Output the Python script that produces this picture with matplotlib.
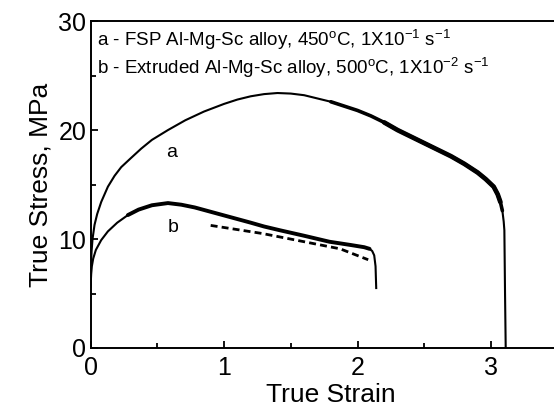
import matplotlib.pyplot as plt

plt.rcParams['font.family'] = ['Liberation Sans', 'DejaVu Sans']
plt.rcParams['mathtext.fontset'] = 'custom'
plt.rcParams['mathtext.rm'] = 'Liberation Sans'
plt.rcParams['mathtext.it'] = 'Liberation Sans'

# curve a: FSP alloy, 450C
a_strain = [0, 0.003, 0.008, 0.015, 0.03, 0.05, 0.08, 0.13, 0.18, 0.23, 0.3, 0.38,
            0.46, 0.58, 0.71, 0.85, 1.0, 1.1, 1.2, 1.3, 1.4, 1.5, 1.6, 1.7, 1.8,
            1.9, 2.0, 2.1, 2.2, 2.3, 2.4, 2.5, 2.6, 2.7, 2.8, 2.9, 2.96, 3.02,
            3.05, 3.07, 3.085, 3.095, 3.10, 3.105, 3.11]
a_stress = [5.8, 7.5, 8.9, 10.0, 11.3, 12.3, 13.4, 14.8, 15.8, 16.6, 17.4, 18.3,
            19.1, 20.0, 20.9, 21.7, 22.4, 22.8, 23.1, 23.3, 23.4, 23.35, 23.2, 22.9, 22.6,
            22.2, 21.8, 21.3, 20.7, 20.0, 19.4, 18.8, 18.2, 17.6, 16.9, 16.1, 15.5, 14.8,
            14.1, 13.4, 12.6, 11.6, 10.8, 5.0, 0]

# curve b: extruded alloy, 500C
b_strain = [0, 0.005, 0.01, 0.02, 0.04, 0.08, 0.13, 0.2, 0.28, 0.36, 0.46, 0.58,
            0.68, 0.78, 0.9, 1.05, 1.2, 1.3, 1.42, 1.6, 1.79, 1.95, 2.05, 2.09,
            2.11, 2.125, 2.135, 2.14]
b_stress = [5.6, 6.8, 7.5, 8.2, 9.0, 9.9, 10.7, 11.5, 12.2, 12.7, 13.1, 13.3,
            13.15, 12.9, 12.5, 12.0, 11.5, 11.15, 10.8, 10.3, 9.75, 9.45, 9.25, 9.1,
            8.9, 8.5, 7.5, 5.5]

# dashed fit line
d_strain = [0.9, 1.29, 1.87, 2.08]
d_stress = [11.25, 10.5, 9.1, 8.1]

fig = plt.figure(figsize=(5.54, 4.18), dpi=100)
ax = fig.add_axes([0.1634, 0.1675, 0.8675, 0.782])

ax.plot(a_strain, a_stress, color='black', lw=1.5)
ax.plot(a_strain[24:-4], a_stress[24:-4], color='black', lw=2.6, solid_capstyle='round')
ax.plot(a_strain[28:-5], a_stress[28:-5], color='black', lw=3.4, solid_capstyle='round')
ax.plot(b_strain, b_stress, color='black', lw=1.5)
ax.plot(b_strain[8:-4], b_stress[8:-4], color='black', lw=2.8, solid_capstyle='round')
ax.plot(d_strain, d_stress, color='black', lw=2.0, ls=(0, (2.5, 1.5)))

ax.text(0.61, 17.9, 'a', fontsize=14, ha='center', va='center')
ax.text(0.62, 11.1, 'b', fontsize=14, ha='center', va='center')
ax.text(0.05, 28.3, r'a - FSP Al-Mg-Sc alloy, 450$^\mathrm{o}$C, 1X10$^{-1}$ s$^{-1}$',
        fontsize=13.5, va='center')
ax.text(0.05, 25.7, r'b - Extruded Al-Mg-Sc alloy, 500$^\mathrm{o}$C, 1X10$^{-2}$ s$^{-1}$',
        fontsize=13.5, va='center')

ax.set_xlim(0, 3.6)
ax.set_ylim(0, 30)
ax.set_xticks([0, 1, 2, 3])
ax.set_xticks([0.5, 1.5, 2.5, 3.5], minor=True)
ax.set_yticks([0, 10, 20, 30])
ax.set_yticks([5, 15, 25], minor=True)
ax.tick_params(which='both', direction='in', width=1.3, labelsize=18)
ax.tick_params(which='major', length=5)
ax.tick_params(which='minor', length=3.5)
ax.tick_params(axis='x', pad=6)
ax.tick_params(axis='y', pad=3)
for s in ax.spines.values():
    s.set_linewidth(1.4)

ax.set_xlabel('True Strain', fontsize=19, labelpad=2)
ax.set_ylabel('True Stress, MPa', fontsize=19, labelpad=4)

fig.savefig('out.png', dpi=100)
